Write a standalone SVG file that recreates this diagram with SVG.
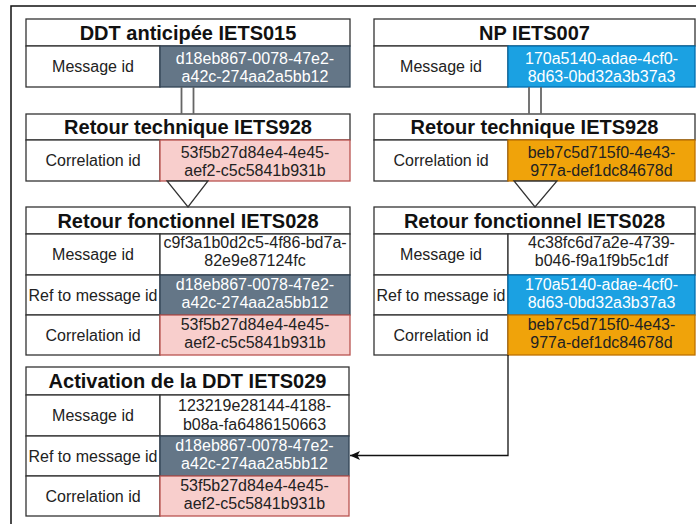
<svg xmlns="http://www.w3.org/2000/svg" width="696" height="524" viewBox="0 0 696 524">
<style>
text{font-family:"Liberation Sans",Arial,Helvetica,sans-serif;fill:#222;text-anchor:middle}
.t{font-size:20px;font-weight:bold;fill:#111}
.b{font-size:16px}
.w{fill:#fff}
.cell{fill:#fff;stroke:#333;stroke-width:1.3}
.slate{fill:#647687;stroke:#314354;stroke-width:1.3}
.blue{fill:#1ba1e2;stroke:#006eaf;stroke-width:1.3}
.pink{fill:#f8cecc;stroke:#b85450;stroke-width:1.3}
.orange{fill:#f0a30a;stroke:#bd7000;stroke-width:1.3}
.link{stroke:#666;stroke-width:1.8;fill:none}
.tri{fill:#fff;stroke:#333;stroke-width:1.3}
.edge{stroke:#111;stroke-width:1.3;fill:none}
</style>
<defs>
<marker id="arr" markerWidth="12" markerHeight="12" refX="11" refY="6" orient="auto" markerUnits="userSpaceOnUse">
<path d="M11,6 L1,1.5 L3.5,6 L1,10.5 Z" fill="#111"/>
</marker>
</defs>
<rect width="696" height="524" fill="#fff"/>
<path d="M11,524 V6 H696" fill="none" stroke="#111" stroke-width="1.5"/>

<g id="ddt-iets015">
<rect class="cell" x="26" y="19" width="324" height="27"/>
<text class="t" x="188" y="40">DDT anticipée IETS015</text>
<rect class="cell" x="26" y="46" width="134" height="41"/>
<text class="b" x="93" y="72">Message id</text>
<rect class="slate" x="160" y="46" width="190" height="41"/>
<text class="b w" x="255" y="63.5">d18eb867-0078-47e2-</text>
<text class="b w" x="255" y="81.5">a42c-274aa2a5bb12</text>
</g>

<g id="rt-left">
<rect class="cell" x="26" y="114" width="324" height="26"/>
<text class="t" x="188" y="134">Retour technique IETS928</text>
<rect class="cell" x="26" y="140" width="134" height="41"/>
<text class="b" x="93" y="166">Correlation id</text>
<rect class="pink" x="160" y="140" width="190" height="41"/>
<text class="b" x="255" y="157.5">53f5b27d84e4-4e45-</text>
<text class="b" x="255" y="175.5">aef2-c5c5841b931b</text>
</g>

<g id="rf-left">
<rect class="cell" x="26" y="207" width="324" height="27"/>
<text class="t" x="188" y="228">Retour fonctionnel IETS028</text>
<rect class="cell" x="26" y="234" width="134" height="41"/>
<text class="b" x="93" y="260">Message id</text>
<rect class="cell" x="160" y="234" width="190" height="41"/>
<text class="b" x="255" y="248">c9f3a1b0d2c5-4f86-bd7a-</text>
<text class="b" x="255" y="266">82e9e87124fc</text>
<rect class="cell" x="26" y="275" width="134" height="40"/>
<text class="b" x="93" y="300.5">Ref to message id</text>
<rect class="slate" x="160" y="275" width="190" height="40"/>
<text class="b w" x="255" y="290">d18eb867-0078-47e2-</text>
<text class="b w" x="255" y="308">a42c-274aa2a5bb12</text>
<rect class="cell" x="26" y="315" width="134" height="40"/>
<text class="b" x="93" y="340.5">Correlation id</text>
<rect class="pink" x="160" y="315" width="190" height="40"/>
<text class="b" x="255" y="330">53f5b27d84e4-4e45-</text>
<text class="b" x="255" y="348">aef2-c5c5841b931b</text>
</g>

<g id="activation-iets029">
<rect class="cell" x="26" y="367" width="323" height="28"/>
<text class="t" x="187.5" y="388">Activation de la DDT IETS029</text>
<rect class="cell" x="26" y="395" width="134" height="41"/>
<text class="b" x="93" y="421">Message id</text>
<rect class="cell" x="160" y="395" width="189" height="41"/>
<text class="b" x="254.5" y="411">123219e28144-4188-</text>
<text class="b" x="254.5" y="429.5">b08a-fa6486150663</text>
<rect class="cell" x="26" y="436" width="134" height="40"/>
<text class="b" x="93" y="461.5">Ref to message id</text>
<rect class="slate" x="160" y="436" width="189" height="40"/>
<text class="b w" x="254.5" y="451">d18eb867-0078-47e2-</text>
<text class="b w" x="254.5" y="469">a42c-274aa2a5bb12</text>
<rect class="cell" x="26" y="476" width="134" height="40"/>
<text class="b" x="93" y="501.5">Correlation id</text>
<rect class="pink" x="160" y="476" width="189" height="40"/>
<text class="b" x="254.5" y="491">53f5b27d84e4-4e45-</text>
<text class="b" x="254.5" y="509">aef2-c5c5841b931b</text>
</g>

<g id="np-iets007">
<rect class="cell" x="374" y="19" width="321" height="27"/>
<text class="t" x="534.5" y="40">NP IETS007</text>
<rect class="cell" x="374" y="46" width="134" height="41"/>
<text class="b" x="441" y="72">Message id</text>
<rect class="blue" x="508" y="46" width="187" height="41"/>
<text class="b w" x="601.5" y="63.5">170a5140-adae-4cf0-</text>
<text class="b w" x="601.5" y="81.5">8d63-0bd32a3b37a3</text>
</g>

<g id="rt-right">
<rect class="cell" x="374" y="114" width="321" height="26"/>
<text class="t" x="534.5" y="134">Retour technique IETS928</text>
<rect class="cell" x="374" y="140" width="134" height="41"/>
<text class="b" x="441" y="166">Correlation id</text>
<rect class="orange" x="508" y="140" width="187" height="41"/>
<text class="b" x="601.5" y="157.5">beb7c5d715f0-4e43-</text>
<text class="b" x="601.5" y="175.5">977a-def1dc84678d</text>
</g>

<g id="rf-right">
<rect class="cell" x="374" y="207" width="321" height="27"/>
<text class="t" x="534.5" y="228">Retour fonctionnel IETS028</text>
<rect class="cell" x="374" y="234" width="134" height="41"/>
<text class="b" x="441" y="260">Message id</text>
<rect class="cell" x="508" y="234" width="187" height="41"/>
<text class="b" x="601.5" y="248">4c38fc6d7a2e-4739-</text>
<text class="b" x="601.5" y="266">b046-f9a1f9b5c1df</text>
<rect class="cell" x="374" y="275" width="134" height="40"/>
<text class="b" x="441" y="300.5">Ref to message id</text>
<rect class="blue" x="508" y="275" width="187" height="40"/>
<text class="b w" x="601.5" y="290">170a5140-adae-4cf0-</text>
<text class="b w" x="601.5" y="308">8d63-0bd32a3b37a3</text>
<rect class="cell" x="374" y="315" width="134" height="40"/>
<text class="b" x="441" y="340.5">Correlation id</text>
<rect class="orange" x="508" y="315" width="187" height="40"/>
<text class="b" x="601.5" y="330">beb7c5d715f0-4e43-</text>
<text class="b" x="601.5" y="348">977a-def1dc84678d</text>
</g>

<g id="connectors">
<line class="link" x1="181.5" y1="87" x2="181.5" y2="114"/>
<line class="link" x1="193.5" y1="87" x2="193.5" y2="114"/>
<line class="link" x1="529" y1="87" x2="529" y2="114"/>
<line class="link" x1="541" y1="87" x2="541" y2="114"/>
<path class="tri" d="M167,181 L208,181 L188,207 Z"/>
<path class="tri" d="M514,181 L557,181 L535,207 Z"/>
<path class="edge" d="M508,355 V455.5 H350" marker-end="url(#arr)"/>
</g>
</svg>
